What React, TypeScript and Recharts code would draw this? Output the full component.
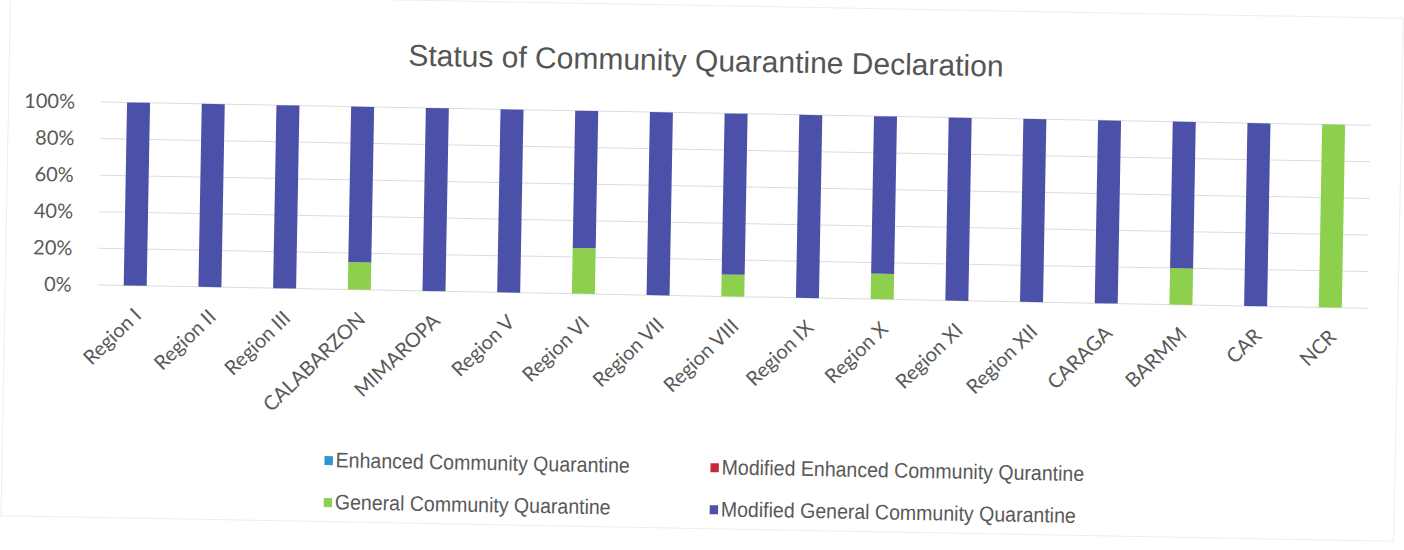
import { BarChart, Bar, XAxis, YAxis, CartesianGrid } from 'recharts'

const REGIONS = [
  'Region I', 'Region II', 'Region III', 'CALABARZON', 'MIMAROPA', 'Region V', 'Region VI',
  'Region VII', 'Region VIII', 'Region IX', 'Region X', 'Region XI', 'Region XII',
  'CARAGA', 'BARMM', 'CAR', 'NCR',
]
const ECQ = [0, 0, 0, 0, 0, 0, 0, 0, 0, 0, 0, 0, 0, 0, 0, 0, 0]
const MECQ = [0, 0, 0, 0, 0, 0, 0, 0, 0, 0, 0, 0, 0, 0, 0, 0, 0]
const GCQ = [0, 0, 0, 15, 0, 0, 25, 0, 12, 0, 14, 0, 0, 0, 20, 0, 100]
const MGCQ = [100, 100, 100, 85, 100, 100, 75, 100, 88, 100, 86, 100, 100, 100, 80, 100, 0]
const Y_TICKS = [0, 20, 40, 60, 80, 100]

const SERIES = [
  { key: 'ecq', label: 'Enhanced Community Quarantine', color: '#2f95d2' },
  { key: 'mecq', label: 'Modified Enhanced Community Qurantine', color: '#c6283d' },
  { key: 'gcq', label: 'General Community Quarantine', color: '#8dd04e' },
  { key: 'mgcq', label: 'Modified General Community Quarantine', color: '#4b50a8' },
]

const data = REGIONS.map((name, i) => ({
  name,
  ecq: ECQ[i],
  mecq: MECQ[i],
  gcq: GCQ[i],
  mgcq: MGCQ[i],
}))

const TEXT = '#595959'
const NARROW = '"Liberation Sans Narrow", "Arial Narrow", "Liberation Sans", Arial, sans-serif'

function XTick({ x, y, payload }: any) {
  return (
    <g transform={`translate(${x + 8},${y + 23})`}>
      <text textAnchor="end" transform="rotate(-45)" fontSize={20} fill={TEXT} fontFamily="Lato, sans-serif">
        {payload.value}
      </text>
    </g>
  )
}

export default function App() {
  return (
    <div style={{
      position: 'absolute', top: 0, left: 0, width: 1404, height: 550,
      background: '#fff', overflow: 'hidden',
    }}>
      <div style={{
        position: 'absolute', inset: 0,
        transform: 'rotate(1.05deg)', transformOrigin: '702px 275px',
      }}>
        <div style={{
          position: 'absolute', top: 5, left: 5, width: 1392, height: 522,
          border: '1px solid #ececf2',
        }} />
        <div style={{
          position: 'absolute', top: 44, left: 0, width: 1404, textAlign: 'center',
          fontFamily: NARROW, fontSize: 30, color: '#555',
        }}>
          Status of Community Quarantine Declaration
        </div>
        <BarChart
          width={1404}
          height={550}
          data={data}
          margin={{ top: 113, right: 36, bottom: 154, left: 28 }}
          barSize={23}
        >
          <CartesianGrid vertical={false} stroke="#dcdce0" />
          <XAxis dataKey="name" axisLine={false} tickLine={false} height={100} interval={0} tick={<XTick />} />
          <YAxis
            width={70}
            domain={[0, 100]}
            ticks={Y_TICKS}
            axisLine={false}
            tickLine={false}
            tickMargin={20}
            tickFormatter={(v: number) => `${v}%`}
            tick={{ fontSize: 20, fill: TEXT, fontFamily: 'Lato, sans-serif' }}
          />
          {SERIES.map(s => (
            <Bar key={s.key} dataKey={s.key} stackId="a" fill={s.color} isAnimationActive={false} />
          ))}
        </BarChart>
        {SERIES.map((s, i) => (
          <div key={s.key} style={{
            position: 'absolute',
            left: i % 2 === 0 ? 328 : 714,
            top: i < 2 ? 455 : 497,
            display: 'flex', alignItems: 'center',
            fontFamily: NARROW, fontSize: 21, color: TEXT,
            transform: 'scaleX(0.93)', transformOrigin: 'left center',
            whiteSpace: 'nowrap',
          }}>
            <span style={{ width: 9, height: 9, background: s.color, marginRight: 3 }} />
            {s.label}
          </div>
        ))}
      </div>
    </div>
  )
}
